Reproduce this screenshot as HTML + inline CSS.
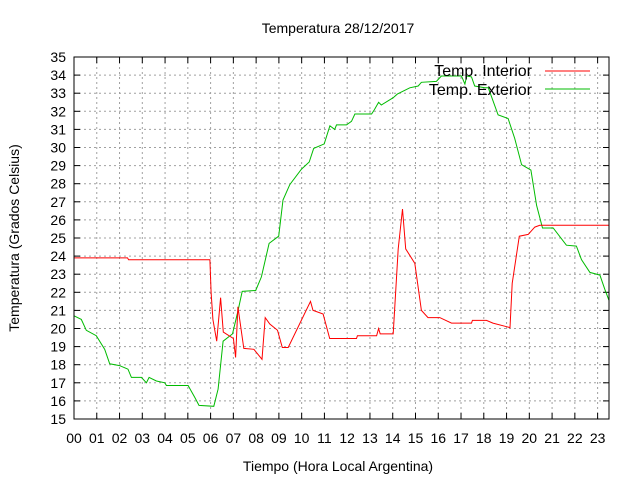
<!DOCTYPE html>
<html><head><meta charset="utf-8"><style>
body{margin:0;background:#fff}
svg text{font-family:"Liberation Sans",sans-serif;font-size:14px;fill:#000}
svg text.leg{font-size:16px}
</style></head><body>
<svg id="chart" width="640" height="480" xmlns="http://www.w3.org/2000/svg">
<rect width="640" height="480" fill="#fff"/>
<text x="338" y="33" text-anchor="middle">Temperatura 28/12/2017</text>
<text x="338" y="471" text-anchor="middle">Tiempo (Hora Local Argentina)</text>
<text transform="translate(19,238) rotate(-90)" text-anchor="middle">Temperatura (Grados Celsius)</text>
<g id="grid"></g>
<g id="ticks"></g>
<g id="series"></g>
<rect x="74" y="57" width="535" height="362" fill="none" stroke="#000" stroke-width="1"/>
<g>
<text class="leg" x="532" y="76" text-anchor="end">Temp. Interior</text>
<line x1="545" y1="71" x2="590" y2="71" stroke="#f00"/>
<text class="leg" x="532" y="95" text-anchor="end">Temp. Exterior</text>
<line x1="545" y1="89" x2="590" y2="89" stroke="#0b0"/>
</g>
</svg>
<script>
const xTicks=["00","01","02","03","04","05","06","07","08","09","10","11","12","13","14","15","16","17","18","19","20","21","22","23"];
const yTicks=[15,16,17,18,19,20,21,22,23,24,25,26,27,28,29,30,31,32,33,34,35];
const interiorHours=[0,2.35,2.4,5.97,6.02,6.1,6.27,6.44,6.56,7.0,7.1,7.2,7.46,7.9,8.26,8.4,8.6,8.94,9.15,9.41,10.39,10.5,10.94,11.23,12.41,12.45,13.29,13.38,13.45,14.02,14.24,14.43,14.57,14.97,15.26,15.55,16.07,16.58,17.46,17.5,18.12,18.4,19.0,19.15,19.25,19.56,19.95,20.24,20.46,23.5];
const interiorTemps=[23.9,23.9,23.8,23.8,22.0,20.5,19.3,21.7,19.8,19.45,18.4,21.2,18.9,18.85,18.3,20.6,20.25,19.9,18.95,18.95,21.5,21.0,20.8,19.45,19.45,19.6,19.6,20.0,19.7,19.7,24.4,26.6,24.4,23.6,21.0,20.6,20.6,20.3,20.3,20.45,20.45,20.3,20.1,20.05,22.5,25.1,25.2,25.6,25.7,25.7];
const exteriorHours=[0,0.32,0.54,0.98,1.35,1.57,2.0,2.37,2.52,2.96,3.18,3.3,3.62,3.99,4.06,5.01,5.3,5.49,6.14,6.33,6.55,6.96,7.2,7.39,7.98,8.23,8.57,8.99,9.18,9.48,9.99,10.33,10.53,10.99,11.24,11.45,11.53,11.97,12.19,12.34,13.07,13.2,13.38,13.5,14.02,14.2,14.75,15.12,15.26,15.92,16.14,17.02,17.17,17.25,17.46,17.6,18.04,18.2,18.63,19.07,19.36,19.66,20.07,20.32,20.58,21.05,21.63,22.07,22.29,22.66,23.1,23.32,23.5];
const exteriorTemps=[20.7,20.5,19.9,19.6,18.85,18.05,17.95,17.75,17.3,17.3,17.0,17.3,17.1,17.0,16.85,16.85,16.2,15.75,15.7,16.65,19.3,19.7,20.95,22.05,22.1,22.85,24.7,25.1,27.1,27.95,28.8,29.2,29.95,30.2,31.2,31.0,31.25,31.25,31.45,31.85,31.85,32.1,32.5,32.35,32.75,32.95,33.3,33.4,33.6,33.65,33.95,33.95,33.5,33.95,33.9,33.4,33.3,33.3,31.8,31.6,30.5,29.05,28.75,26.8,25.55,25.55,24.6,24.55,23.8,23.1,22.95,22.15,21.55];
const NS="http://www.w3.org/2000/svg";
const L=74,R=609,T=57,B=419,XMAX=23.5;
function xs(h){return L+h*(R-L)/XMAX;}
function ys(t){return B-(t-15)*(B-T)/20;}
const grid=document.getElementById('grid'),ticks=document.getElementById('ticks'),ser=document.getElementById('series');
function mk(tag,attrs,parent){const e=document.createElementNS(NS,tag);for(const k in attrs)e.setAttribute(k,attrs[k]);parent.appendChild(e);return e;}
yTicks.forEach(v=>{
  const y=ys(v);
  if(v>15&&v<35){const g=mk('line',{x1:L,x2:R,y1:y,y2:y,stroke:'#a0a0a0','stroke-dasharray':'2,3'},grid);
  
  }
  const t1=mk('line',{x1:L,x2:L+6,y1:y,y2:y,stroke:'#000'},ticks);
  
  
  const t2=mk('line',{x1:R-6,x2:R,y1:y,y2:y,stroke:'#000'},ticks);
  
  
  const lb=mk('text',{x:L-8,y:y+5,'text-anchor':'end'},ticks);lb.textContent=v;
  
  
});
xTicks.forEach((s,i)=>{
  const x=xs(i);
  if(i>0){const g=mk('line',{x1:x,x2:x,y1:T,y2:B,stroke:'#a0a0a0','stroke-dasharray':'2,3'},grid);
  
  }
  const t1=mk('line',{x1:x,x2:x,y1:B-6,y2:B,stroke:'#000'},ticks);
  
  
  const t2=mk('line',{x1:x,x2:x,y1:T,y2:T+6,stroke:'#000'},ticks);
  
  
  const lb=mk('text',{x:x,y:443,'text-anchor':'middle'},ticks);lb.textContent=s;
  
  
});
function line(hs,ts,color,name){
  const p=hs.map((h,i)=>xs(h).toFixed(1)+','+ys(ts[i]).toFixed(1)).join(' ');
  const e=mk('polyline',{points:p,fill:'none',stroke:color,'stroke-width':1},ser);
  
  
}
line(exteriorHours,exteriorTemps,'#0b0','exterior-temp-line');
line(interiorHours,interiorTemps,'#f00','interior-temp-line');
</script>
</body></html>
